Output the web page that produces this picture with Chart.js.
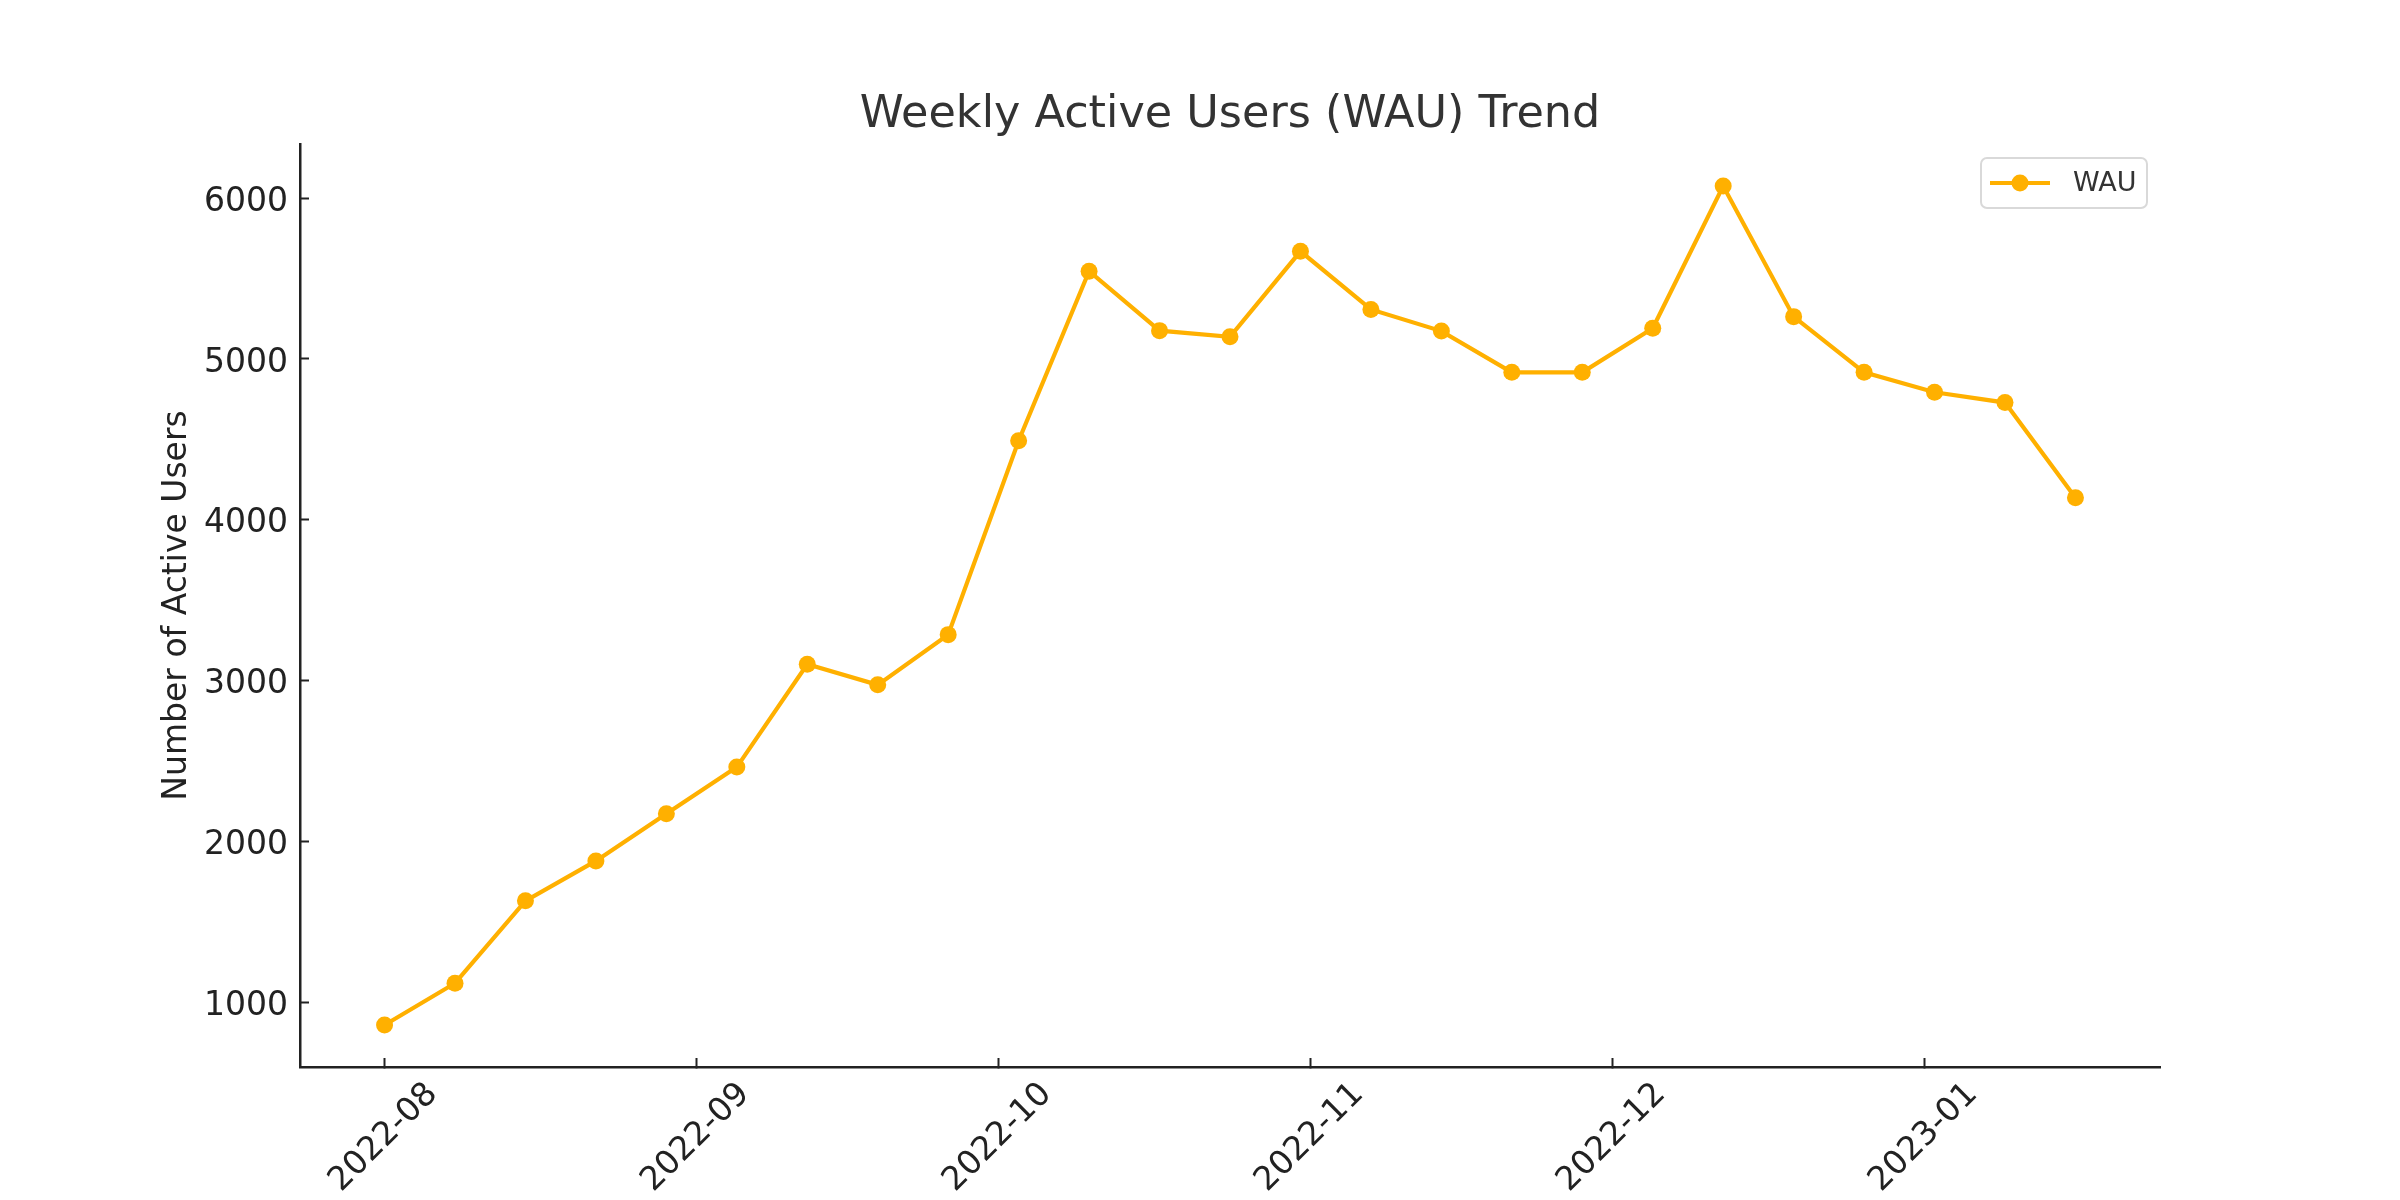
<!DOCTYPE html>
<html>
<head>
<meta charset="utf-8">
<title>Weekly Active Users (WAU) Trend</title>
<script src="https://cdn.jsdelivr.net/npm/chart.js@4.4.1/dist/chart.umd.min.js"></script>
<style>
  html, body { margin: 0; padding: 0; background: #fff; }
  #wrap { width: 2400px; height: 1200px; }
</style>
</head>
<body>
<div id="wrap"><canvas id="wauChart" width="2400" height="1200"></canvas></div>
<script>
// week start dates and weekly active users
var weeks = [
  '2022-08-01', '2022-08-08', '2022-08-15', '2022-08-22', '2022-08-29',
  '2022-09-05', '2022-09-12', '2022-09-19', '2022-09-26', '2022-10-03',
  '2022-10-10', '2022-10-17', '2022-10-24', '2022-10-31', '2022-11-07',
  '2022-11-14', '2022-11-21', '2022-11-28', '2022-12-05', '2022-12-12',
  '2022-12-19', '2022-12-26', '2023-01-02', '2023-01-09', '2023-01-16'
];
var wau = [
  861, 1121, 1633, 1881, 2174,
  2464, 3103, 2975, 3287, 4492,
  5545, 5176, 5138, 5669, 5308,
  5173, 4917, 4917, 5191, 6075,
  5263, 4917, 4793, 4729, 4138
];
var monthLabels = ['2022-08', '2022-09', '2022-10', '2022-11', '2022-12', '2023-01'];
var yTicks = [1000, 2000, 3000, 4000, 5000, 6000];

var chartTitle = 'Weekly Active Users (WAU) Trend';
var yTitle = 'Number of Active Users';
var lineColor = '#FFB000';
var axisColor = '#222222';
var FONT = "'DejaVu Sans', sans-serif";

var DAY = 24 * 3600 * 1000;
var start = Date.parse(weeks[0] + 'T00:00:00Z');
function dayOf(s) {
  return (Date.parse(s + 'T00:00:00Z') - start) / DAY;
}
var monthDays = monthLabels.map(function (m) { return dayOf(m + '-01'); });

var points = weeks.map(function (w, i) {
  return { x: dayOf(w), y: wau[i] };
});

// matplotlib style 5% margins
var xFirst = dayOf(weeks[0]);
var xLast = dayOf(weeks[weeks.length - 1]);
var xPad = (xLast - xFirst) * 0.05;
var yMinV = Math.min.apply(null, wau);
var yMaxV = Math.max.apply(null, wau);
var yPad = (yMaxV - yMinV) * 0.05;

// title + legend drawn over the plot like matplotlib does
var overlayPlugin = {
  id: 'overlay',
  afterDraw: function (chart) {
    var ctx = chart.ctx;
    var area = chart.chartArea;
    ctx.save();
    ctx.fillStyle = '#333333';
    ctx.font = '44.5px ' + FONT;
    ctx.textAlign = 'center';
    ctx.textBaseline = 'middle';
    ctx.fillText(chartTitle, (area.left + area.right) / 2, 115);

    // legend box
    var ds = chart.data.datasets[0];
    var bw = 166, bh = 50;
    var bx = area.right - 13 - bw;
    var by = area.top + 14;
    ctx.beginPath();
    ctx.roundRect(bx, by, bw, bh, 6);
    ctx.fillStyle = 'rgba(255,255,255,0.8)';
    ctx.fill();
    ctx.lineWidth = 2;
    ctx.strokeStyle = '#d9d9d9';
    ctx.stroke();
    var cy = by + bh / 2;
    ctx.beginPath();
    ctx.moveTo(bx + 9, cy);
    ctx.lineTo(bx + 69, cy);
    ctx.lineWidth = ds.borderWidth;
    ctx.strokeStyle = ds.borderColor;
    ctx.stroke();
    ctx.beginPath();
    ctx.arc(bx + 39, cy, ds.pointRadius, 0, Math.PI * 2);
    ctx.fillStyle = ds.borderColor;
    ctx.fill();
    ctx.fillStyle = '#333333';
    ctx.font = '27px ' + FONT;
    ctx.textAlign = 'left';
    ctx.fillText(ds.label, bx + 92, cy + 1);
    ctx.restore();
  }
};

var ctx = document.getElementById('wauChart').getContext('2d');
var wauChart = new Chart(ctx, {
  type: 'line',
  data: {
    datasets: [{
      label: 'WAU',
      data: points,
      borderColor: lineColor,
      backgroundColor: lineColor,
      borderWidth: 4.2,
      pointRadius: 8.5,
      pointHoverRadius: 8.5,
      pointBackgroundColor: lineColor,
      pointBorderWidth: 0,
      tension: 0,
      fill: false
    }]
  },
  options: {
    responsive: false,
    animation: false,
    events: [],
    layout: {
      padding: { left: 0, right: 240, top: 144, bottom: 0 }
    },
    plugins: {
      legend: { display: false },
      title: { display: false },
      tooltip: { enabled: false }
    },
    scales: {
      x: {
        type: 'linear',
        min: xFirst - xPad,
        max: xLast + xPad,
        afterBuildTicks: function (scale) {
          scale.ticks = monthDays.map(function (d) { return { value: d }; });
        },
        afterFit: function (scale) {
          scale.height = 133;
        },
        border: { display: true, color: axisColor, width: 2.5 },
        grid: {
          drawOnChartArea: false,
          drawTicks: true,
          tickLength: -9,
          tickColor: axisColor,
          tickWidth: 2
        },
        ticks: {
          autoSkip: false,
          minRotation: 45,
          maxRotation: 45,
          padding: 17,
          labelOffset: 48,
          color: axisColor,
          font: { family: FONT, size: 33 },
          callback: function (value, index) {
            return monthLabels[index];
          }
        }
      },
      y: {
        min: yMinV - yPad,
        max: yMaxV + yPad,
        afterBuildTicks: function (scale) {
          scale.ticks = yTicks.map(function (v) { return { value: v }; });
        },
        afterFit: function (scale) {
          scale.width = 300;
        },
        border: { display: true, color: axisColor, width: 2.5 },
        grid: {
          drawOnChartArea: false,
          drawTicks: true,
          tickLength: -9,
          tickColor: axisColor,
          tickWidth: 2
        },
        title: {
          display: true,
          text: yTitle,
          color: axisColor,
          font: { family: FONT, size: 33 },
          padding: { top: 158, bottom: 0 }
        },
        ticks: {
          padding: 21,
          labelOffset: 4,
          color: axisColor,
          font: { family: FONT, size: 33 },
          callback: function (value) {
            return String(value);
          }
        }
      }
    }
  },
  plugins: [overlayPlugin]
});
</script>
</body>
</html>
